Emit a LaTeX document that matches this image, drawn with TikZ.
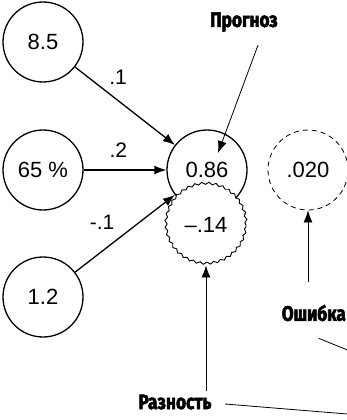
\documentclass[tikz,border=0pt]{standalone}
\usepackage{fontspec}
\setmainfont{Liberation Sans}
\newfontfamily\lblfont[FakeStretch=0.82,FakeBold=2.5]{Fira Sans}
\usetikzlibrary{arrows.meta,positioning,decorations.pathmorphing}

\tikzset{
  val/.style={circle,draw,line width=1.3pt,minimum size=80pt,inner sep=0pt,fill=white,
    font=\fontsize{22}{22}\selectfont},
  errval/.style={val,line width=0.8pt,dash pattern=on 5pt off 4pt},
  diffval/.style={val,line width=0.9pt,decorate,decoration={snake,amplitude=1.1pt,segment length=7pt}},
  lbl/.style={font=\lblfont\bfseries\fontsize{21}{21}\selectfont},
  wt/.style={font=\fontsize{21}{21}\selectfont,inner sep=0pt},
  arr/.style={-{Latex[length=12pt,width=9pt]},line width=1.3pt},
  thin/.style={line width=0.8pt}
}

\begin{document}
\begin{tikzpicture}[x=1pt,y=-1pt]
  \useasboundingbox (0,0) rectangle (347,420);
  % inputs
  \foreach \v/\n/\y in {8.5/a/42, 65~\%/b/170, 1.2/c/297}
    \node[val] (\n) at (43,\y) {\v};
  % prediction and the difference below it
  \node[val] (p) at (207,170) {0.86};
  \node[diffval] (m) at (206,225) {--.14};
  \node[errval] (e) at (308,170) {.020};

  \draw[arr] (a) -- node[wt,pos=0.43,above=15pt] {.1} (p);
  \draw[arr] (b) -- node[wt,pos=0.42,above=12pt] {.2} (p);
  \draw[arr] (c) -- node[wt,pos=0.27,above=21pt] {-.1} (p);

  % callouts
  \node[lbl] (lp) at (244,22) {Прогноз};
  \node[lbl,anchor=east,inner sep=1pt] (lo) at (347,313) {Ошибка};
  \node[lbl] (lr) at (175,402) {Разность};
  \coordinate (fo) at (372,360);
  \coordinate (fr) at (372,416);

  \draw[arr,thin] ([xshift=14pt,yshift=-10pt]lp.south) -- ([xshift=11pt,yshift=17pt]p.center);
  \draw[arr,thin] ([yshift=22pt]lo.north -| e.south) -- (e.south);
  \draw[arr,thin] (lr.north -| m.south) -- (m.south);
  \draw[thin] ([xshift=5pt,yshift=-16pt]lo.south) -- (fo);
  \draw[thin] ([xshift=10pt,yshift=-2pt]lr.east) -- (fr);
\end{tikzpicture}
\end{document}
